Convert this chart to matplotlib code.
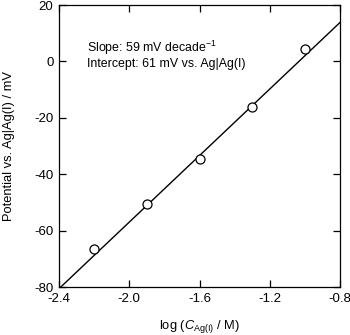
import numpy as np
import matplotlib.pyplot as plt

plt.rcParams['font.family'] = ['Liberation Sans', 'DejaVu Sans']
plt.rcParams['mathtext.fontset'] = 'custom'
plt.rcParams['mathtext.rm'] = 'Liberation Sans'
plt.rcParams['mathtext.it'] = 'Liberation Sans:italic'

# measured points
log_c = [-2.2, -1.9, -1.6, -1.3, -1.0]
potential = [-66.5, -50.5, -34.5, -16.0, 4.3]

# fit line
slope = 59
intercept = 61
fit_x = [-2.4, -0.8]

xticks = [-2.4, -2.0, -1.6, -1.2, -0.8]
yticks = [-80, -60, -40, -20, 0, 20]

fig = plt.figure(figsize=(3.5, 3.35), dpi=100)
ax = fig.add_axes([59/350, 1-287/335, (340-59)/350, (287-5)/335])

fx = np.array(fit_x)
ax.plot(fx, slope*fx + intercept, color='black', lw=1.0)
ax.plot(log_c, potential, 'o', mfc='white', mec='black', mew=0.9, ms=6.5)

ax.set_xlim(-2.4, -0.8)
ax.set_ylim(-80, 20)
ax.set_xticks(xticks)
ax.set_yticks(yticks)
ax.set_xticklabels(['%.1f' % v for v in xticks])
ax.set_yticklabels([str(v) for v in yticks])
ax.tick_params(direction='in', top=True, right=True, length=5, width=0.9,
               labelsize=9.5, pad=4)
for s in ax.spines.values():
    s.set_linewidth(0.9)

ax.set_xlabel(r'log ($C_{\mathrm{Ag(I)}}$ / M)', fontsize=9.3, labelpad=10)
ax.set_ylabel('Potential vs. Ag|Ag(I) / mV', fontsize=9.3, labelpad=14)

ax.text(0.1, 0.834, 'Slope: 59 mV decade$^{-1}$', transform=ax.transAxes, fontsize=8.9)
ax.text(0.1, 0.780, 'Intercept: 61 mV vs. Ag|Ag(I)', transform=ax.transAxes, fontsize=8.9)

fig.savefig('out.png', dpi=100)
